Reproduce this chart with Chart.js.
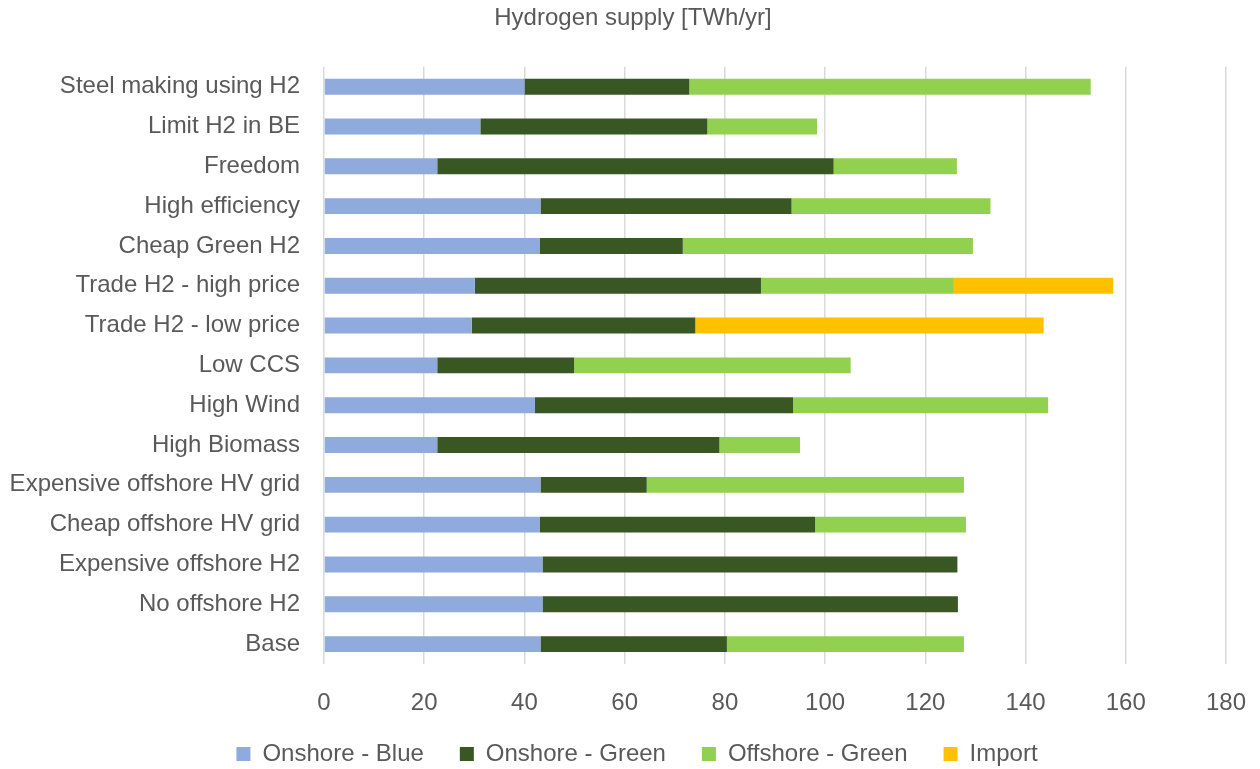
<!DOCTYPE html>
<html>
<head>
<meta charset="utf-8">
<script src="https://cdn.jsdelivr.net/npm/chart.js@4"></script>
<style>
  html, body { margin: 0; padding: 0; background: #fff; }
  #wrap { width: 1260px; height: 769px; }
</style>
</head>
<body>
<div id="wrap"><canvas id="h2Chart" width="1260" height="769"></canvas></div>
<script>
const scenarios = [
  'Steel making using H2', 'Limit H2 in BE', 'Freedom', 'High efficiency',
  'Cheap Green H2', 'Trade H2 - high price', 'Trade H2 - low price', 'Low CCS',
  'High Wind', 'High Biomass', 'Expensive offshore HV grid', 'Cheap offshore HV grid',
  'Expensive offshore H2', 'No offshore H2', 'Base'
];
const onshoreBlue   = [40.0, 31.2, 22.6, 43.2, 43.1, 30.1, 29.5, 22.6, 42.1, 22.6, 43.2, 43.1, 43.6, 43.6, 43.2];
const onshoreGreen  = [32.9, 45.3, 79.1, 50.1, 28.5, 57.1, 44.6, 27.3, 51.5, 56.3, 21.2, 54.9, 82.8, 82.9, 37.2];
const offshoreGreen = [80.1, 21.9, 24.6, 39.7, 57.9, 38.5, 0, 55.2, 50.9, 16.1, 63.3, 30.1, 0, 0, 47.3];
const importH2      = [0, 0, 0, 0, 0, 31.8, 69.5, 0, 0, 0, 0, 0, 0, 0, 0];
const xTicks = [0, 20, 40, 60, 80, 100, 120, 140, 160, 180];

const FONT = '"Liberation Sans", Arial, sans-serif';
const GREY = '#595959';

function series(label, data, color) {
  return { label, data, backgroundColor: color, borderWidth: 0, barPercentage: 0.4, categoryPercentage: 1 };
}

// let the x tick labels draw below the squeezed axis box,
// and centre title + legend on the whole page like the original
const layoutTweaks = {
  id: 'layoutTweaks',
  afterLayout(chart) {
    const x = chart.scales.x;
    x.bottom = x.top + 60;
    chart.titleBlock.left += 40;
    chart.legend.left += 48;
  }
};

new Chart(document.getElementById('h2Chart'), {
  type: 'bar',
  data: {
    labels: scenarios,
    datasets: [
      series('Onshore - Blue', onshoreBlue, '#8faadc'),
      series('Onshore - Green', onshoreGreen, '#385723'),
      series('Offshore - Green', offshoreGreen, '#92d050'),
      series('Import', importH2, '#ffc000')
    ]
  },
  plugins: [layoutTweaks],
  options: {
    indexAxis: 'y',
    responsive: false,
    animation: false,
    layout: { padding: { left: 0, right: 34, top: 0, bottom: -7 } },
    scales: {
      x: {
        stacked: true,
        min: 0,
        max: 180,
        afterBuildTicks: s => { s.ticks = xTicks.map(v => ({ value: v })); },
        afterFit: s => { s.height = 42; s.paddingLeft = 0; s.paddingRight = 0; },
        grid: { color: '#d9d9d9', lineWidth: 1.5, drawTicks: false },
        border: { display: false },
        ticks: { padding: 25, color: GREY, font: { family: FONT, size: 24 } }
      },
      y: {
        stacked: true,
        grid: { display: false, drawTicks: false },
        border: { display: false },
        afterFit: s => { s.width = 324; },
        ticks: { padding: 24, color: GREY, font: { family: FONT, size: 24 } }
      }
    },
    plugins: {
      title: {
        display: true,
        text: 'Hydrogen supply [TWh/yr]',
        color: GREY,
        font: { family: FONT, size: 24, weight: 'normal' },
        padding: { top: 4, bottom: 34 }
      },
      legend: {
        position: 'bottom',
        labels: { boxWidth: 14, boxHeight: 14, padding: 36, color: GREY, font: { family: FONT, size: 24 } }
      },
      tooltip: { enabled: false }
    }
  }
});
</script>
</body>
</html>
